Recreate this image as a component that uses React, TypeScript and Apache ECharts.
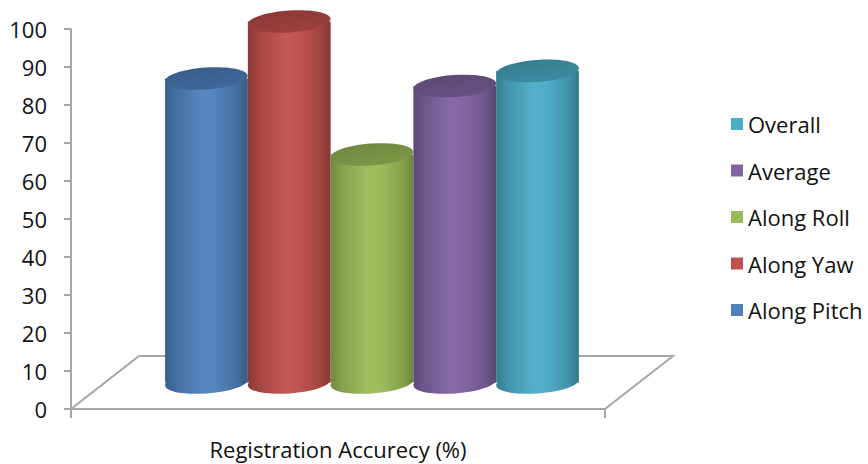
import React, { useEffect, useRef } from "react";
import * as echarts from "echarts";

// Chart data
const CATEGORY = "Registration Accurecy (%)";
const SERIES_NAMES = ["Along Pitch", "Along Yaw", "Along Roll", "Average", "Overall"];
const SERIES_VALUES = [80, 95, 60, 78, 82];
const SERIES_COLORS = ["#4F81BD", "#C0504D", "#9BBB59", "#8064A2", "#4BACC6"];
const LEGEND_ORDER = ["Overall", "Average", "Along Roll", "Along Yaw", "Along Pitch"];
const Y_MIN = 0;
const Y_MAX = 100;
const Y_STEP = 10;

// Pseudo-3D geometry (floor depth vector, cylinder proportions)
const DEPTH_X = 68;
const DEPTH_Y = -53;
const BAR_FRACTION = 0.155;
const CAP_RY = 11;
const TILT = 0.07;
const FONT = "'Open Sans', Lato, sans-serif";
const FONT_SIZE = 22;
const TEXT_COLOR = "#111111";
const AXIS_COLOR = "#a6a6a6";

function shade(hex: string, f: number): string {
  const n = parseInt(hex.slice(1), 16);
  const ch = [(n >> 16) & 255, (n >> 8) & 255, n & 255].map((c) =>
    Math.max(0, Math.min(255, Math.round(f >= 1 ? c + (255 - c) * (f - 1) : c * f)))
  );
  return "rgb(" + ch.join(",") + ")";
}

function makeCylinder(i: number) {
  return (params: any, api: any) => {
    const cat = api.value(0);
    const v = api.value(1);
    const base = api.coord([cat, Y_MIN]);
    const top = api.coord([cat, v]);
    const band = api.size([1, 0])[0];
    const w = band * BAR_FRACTION;
    const rx = w / 2;
    const offset = (i - (SERIES_NAMES.length - 1) / 2) * w;
    const cx = base[0] + offset + DEPTH_X / 2;
    const by = base[1] + DEPTH_Y / 2;
    const ty = top[1] + DEPTH_Y / 2;
    const c = SERIES_COLORS[i];
    const body = new echarts.graphic.LinearGradient(0, 0, 1, 0, [
      { offset: 0, color: shade(c, 0.72) },
      { offset: 0.12, color: shade(c, 0.85) },
      { offset: 0.45, color: shade(c, 1.05) },
      { offset: 0.6, color: shade(c, 1.02) },
      { offset: 0.88, color: shade(c, 0.85) },
      { offset: 1, color: shade(c, 0.7) },
    ]);
    const cap = new echarts.graphic.LinearGradient(0, 0, 0.3, 1, [
      { offset: 0, color: shade(c, 0.72) },
      { offset: 1, color: shade(c, 0.8) },
    ]);
    return {
      type: "group",
      children: [
        {
          type: "ellipse",
          x: cx,
          y: by,
          rotation: TILT,
          shape: { cx: 0, cy: 0, rx, ry: CAP_RY },
          style: { fill: body },
        },
        {
          type: "rect",
          shape: { x: cx - rx, y: ty, width: w, height: by - ty },
          style: { fill: body },
        },
        {
          type: "ellipse",
          x: cx,
          y: ty,
          rotation: TILT,
          shape: { cx: 0, cy: 0, rx, ry: CAP_RY },
          style: { fill: cap },
        },
      ],
    };
  };
}

function renderFloor(params: any) {
  const cs = params.coordSys;
  const x0 = cs.x;
  const x1 = cs.x + cs.width;
  const y0 = cs.y + cs.height;
  return {
    type: "polyline",
    silent: true,
    shape: {
      points: [
        [x0, y0],
        [x0 + DEPTH_X, y0 + DEPTH_Y],
        [x1 + DEPTH_X, y0 + DEPTH_Y],
        [x1, y0],
      ],
    },
    style: { stroke: AXIS_COLOR, lineWidth: 2, fill: null },
  };
}

export default function App() {
  const ref = useRef<HTMLDivElement>(null);

  useEffect(() => {
    if (!ref.current) return;
    const chart = echarts.init(ref.current, undefined, { renderer: "svg" });

    const series: any[] = [
      {
        type: "custom",
        name: "floor",
        z: 1,
        renderItem: renderFloor,
        data: [[0, 0]],
        encode: { x: 0, y: 1 },
      },
      ...SERIES_NAMES.map((name, i) => ({
        type: "custom",
        name,
        z: 2,
        itemStyle: { color: SERIES_COLORS[i] },
        renderItem: makeCylinder(i),
        data: [[0, SERIES_VALUES[i]]],
        encode: { x: 0, y: 1 },
      })),
    ];

    chart.setOption({
      animation: false,
      backgroundColor: "#ffffff",
      grid: { left: 71, right: 263, top: 29, bottom: 55 },
      legend: {
        data: LEGEND_ORDER,
        orient: "vertical",
        left: 726,
        top: 108,
        icon: "rect",
        itemWidth: 12,
        itemHeight: 12,
        itemGap: 24.5,
        selectedMode: false,
        textStyle: {
          fontFamily: FONT,
          fontSize: FONT_SIZE,
          lineHeight: 22,
          color: TEXT_COLOR,
          padding: [0, 0, 0, 0],
        },
      },
      xAxis: {
        type: "category",
        data: [CATEGORY],
        axisLine: { show: true, lineStyle: { color: AXIS_COLOR, width: 2 } },
        axisTick: { show: true, length: 9, lineStyle: { color: AXIS_COLOR, width: 2 } },
        axisLabel: { fontFamily: FONT, fontSize: FONT_SIZE, color: TEXT_COLOR, margin: 29 },
      },
      yAxis: {
        type: "value",
        min: Y_MIN,
        max: Y_MAX,
        interval: Y_STEP,
        axisLine: { show: true, lineStyle: { color: AXIS_COLOR, width: 2 } },
        axisTick: { show: true, length: 7, lineStyle: { color: AXIS_COLOR, width: 2 } },
        splitLine: { show: false },
        axisLabel: { fontFamily: FONT, fontSize: FONT_SIZE, color: TEXT_COLOR, margin: 24 },
      },
      series,
    });

    return () => chart.dispose();
  }, []);

  return (
    <div
      ref={ref}
      style={{ position: "fixed", left: 0, top: 0, width: 868, height: 464, background: "#fff" }}
    />
  );
}
